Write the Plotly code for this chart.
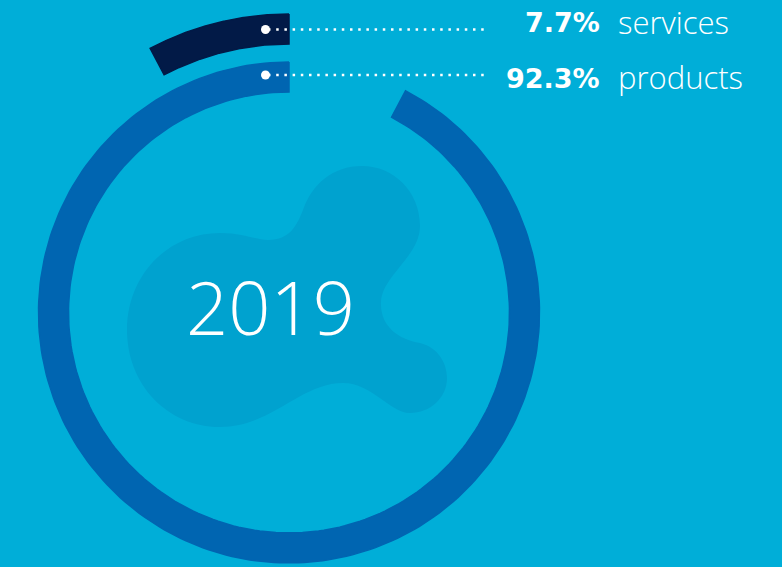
import numpy as np
import plotly.graph_objects as go

# Revenue split
categories = ["services", "products"]
shares = [7.7, 92.3]          # percent of total
year_label = "2019"

# Styling
BG = "#00AED8"
BLOB = "#00A2CF"
ring_colors = {"services": "#021A47", "products": "#0065B1"}
W, H = 782, 567
CX, CY = 289, 312.5
# (inner, outer) radius of each ring, in pixels
ring_radii = {"services": (268.5, 298.5), "products": (220.5, 250.5)}
leader_rows = {"services": 29.5, "products": 75}
text_rows = {"services": 22.5, "products": 78}


def arc_polygon(share, r_in, r_out, n=240):
    """Ring segment starting at 12 o'clock, sweeping counter-clockwise."""
    span = np.deg2rad(share / 100.0 * 360.0)
    t = np.pi / 2 + np.linspace(0, span, n)
    xo, yo = CX + r_out * np.cos(t), CY - r_out * np.sin(t)
    xi, yi = CX + r_in * np.cos(t[::-1]), CY - r_in * np.sin(t[::-1])
    x = np.concatenate([xo, xi, xo[:1]])
    y = np.concatenate([yo, yi, yo[:1]])
    return x, y


fig = go.Figure()

for cat, val in zip(categories, shares):
    r_in, r_out = ring_radii[cat]
    x, y = arc_polygon(val, r_in, r_out)
    fig.add_trace(go.Scatter(
        x=x, y=y, mode="lines", fill="toself",
        fillcolor=ring_colors[cat],
        line=dict(color=ring_colors[cat], width=1.5),
        hoverinfo="skip", showlegend=False, name=cat,
    ))

# dotted leader lines with a dot at the start
for cat in categories:
    yy = leader_rows[cat]
    fig.add_trace(go.Scatter(
        x=[268, 487], y=[yy, yy], mode="lines",
        line=dict(color="white", width=2.5, dash="2.5px,5.7px"),
        hoverinfo="skip", showlegend=False,
    ))
    fig.add_trace(go.Scatter(
        x=[265.5], y=[yy], mode="markers",
        marker=dict(color="white", size=9, line=dict(width=0)),
        hoverinfo="skip", showlegend=False,
    ))

# percentage + category labels
for cat, val in zip(categories, shares):
    yy = text_rows[cat]
    fig.add_annotation(
        x=602, y=yy, xref="x", yref="y", text=f"{val:.1f}%",
        showarrow=False, xanchor="right", yanchor="middle",
        font=dict(family="DejaVu Sans", size=27, color="white", weight=700),
    )
    fig.add_annotation(
        x=616, y=yy - 1, xref="x", yref="y", text=cat,
        showarrow=False, xanchor="left", yanchor="middle",
        font=dict(family="Open Sans", size=31, color="white", weight=300),
    )

# year in the centre
fig.add_annotation(
    x=270, y=306, xref="x", yref="y", text=year_label, showarrow=False,
    xanchor="center", yanchor="middle",
    font=dict(family="Open Sans", size=74, color="white", weight=300),
)

# decorative blob behind the year
blob_path = (
    "M 362 166 C 394 166 420 192 420 226 "
    "C 420 256 382 276 381 302 "
    "C 380 326 398 339 420 343 "
    "C 437 347 447 362 447 378 "
    "C 447 398 430 413 410 413 "
    "C 390 413 372 383 343 383 "
    "C 300 383 272 427 220 427 "
    "C 167 427 127 384 127 330 "
    "C 127 276 167 233 220 233 "
    "C 245 233 255 240 268 240 "
    "C 290 240 297 225 303 210 "
    "C 312 184 333 166 362 166 Z"
)
fig.add_shape(type="path", path=blob_path, xref="x", yref="y",
              fillcolor=BLOB, line=dict(width=0), layer="below")

fig.update_layout(
    width=W, height=H,
    margin=dict(l=0, r=0, t=0, b=0),
    paper_bgcolor=BG, plot_bgcolor=BG,
    xaxis=dict(range=[0, W], visible=False, fixedrange=True),
    yaxis=dict(range=[H, 0], visible=False, fixedrange=True),
    showlegend=False,
)

fig.write_html("out.html")
